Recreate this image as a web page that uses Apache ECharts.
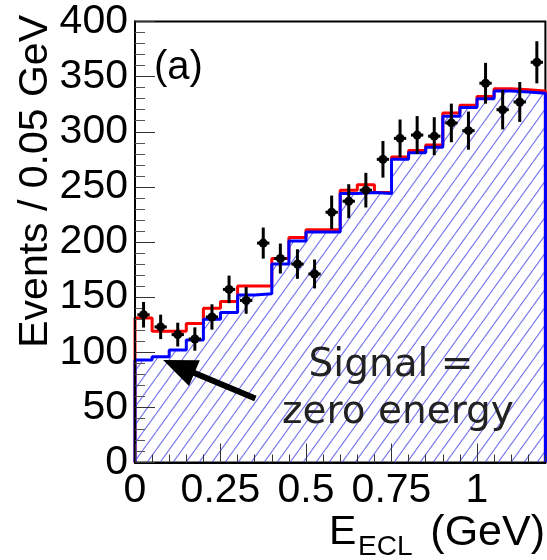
<!DOCTYPE html>
<html>
<head>
<meta charset="utf-8">
<script src="https://cdn.jsdelivr.net/npm/echarts@6/dist/echarts.min.js"></script>
<style>
  html, body { margin: 0; padding: 0; background: #fff; }
  #chart { width: 547px; height: 560px; }
</style>
</head>
<body>
<div id="chart"></div>
<script>
// E_ECL spectrum, 0.05 GeV bins
const binEdges = [0, 0.05, 0.1, 0.15, 0.2, 0.25, 0.3, 0.35, 0.4, 0.45, 0.5, 0.55,
                  0.6, 0.65, 0.7, 0.75, 0.8, 0.85, 0.9, 0.95, 1.0, 1.05, 1.1, 1.15, 1.2];

// Observed events per bin and their statistical errors
const dataCounts = [134, 123, 116, 112, 132, 157, 147, 199, 185, 180, 171, 227,
                    237, 247, 275, 294, 297, 296, 308, 301, 344, 320, 327, 363];
const dataErrors = [11.6, 11.1, 10.8, 10.6, 11.5, 12.5, 12.1, 14.1, 13.6, 13.4, 13.1, 15.1,
                    15.4, 15.7, 16.6, 17.1, 17.2, 17.2, 17.5, 17.3, 18.5, 17.9, 18.1, 19.1];

// Fit result: total (signal + background) and background only
const fitTotal = [131, 119, 119, 126, 140, 146, 160, 160, 185, 204, 211, 211,
                  247, 252, 245, 277, 283, 288, 317, 324, 332, 339, 338, 337];
const fitBackground = [93, 96, 102, 111, 130, 136, 152, 153, 180, 201, 209, 209,
                       244, 245, 244, 275, 281, 286, 314, 322, 330, 337, 336, 335];

const xMajorStep = 0.25, xMinorStep = 0.05;
const yMax = 400, yStep = 50;

// Histogram outline: one point per bin edge, closed down to zero at both ends
function stepPoints(values) {
  const n = values.length;
  const pts = [[binEdges[0], 0]];
  values.forEach((v, i) => pts.push([binEdges[i], v]));
  pts.push([binEdges[n], values[n - 1]]);
  pts.push([binEdges[n], 0]);
  return pts;
}

const points = dataCounts.map((c, i) => [(binEdges[i] + binEdges[i + 1]) / 2, c, dataErrors[i]]);

// "/" hatching for the background fill
function hatchPattern() {
  const w = 13, h = 18;
  const cv = document.createElement('canvas');
  cv.width = w; cv.height = h;
  const ctx = cv.getContext('2d');
  ctx.strokeStyle = 'rgba(90,90,235,0.85)';
  ctx.lineWidth = 1.1;
  for (let k = -1; k <= 1; k++) {
    ctx.beginPath();
    ctx.moveTo(k * w, h);
    ctx.lineTo(k * w + w, 0);
    ctx.stroke();
  }
  return cv;
}

const FONT = 'Liberation Sans, Arial, sans-serif';
const chart = echarts.init(document.getElementById('chart'), null, { renderer: 'canvas' });

chart.setOption({
  animation: false,
  backgroundColor: '#fff',
  grid: { left: 135, top: 21.5, width: 410.4, height: 441, show: true,
          borderColor: '#000', borderWidth: 2, backgroundColor: 'transparent' },
  xAxis: [{
    type: 'value', min: 0, max: 1.2, interval: xMajorStep, z: 5,
    axisLine: { show: true, lineStyle: { color: '#000', width: 2 } },
    axisTick: { show: true, inside: true, length: 19, lineStyle: { color: '#333', width: 1 } },
    splitLine: { show: false },
    axisLabel: { show: true, showMaxLabel: false, margin: 28.5, verticalAlign: 'middle',
                 fontFamily: FONT, fontSize: 41, color: '#000' }
  }, {
    type: 'value', min: 0, max: 1.2, interval: xMinorStep, position: 'bottom', z: 5,
    axisLine: { show: false },
    axisTick: { show: true, inside: true, length: 8, lineStyle: { color: '#333', width: 1 } },
    splitLine: { show: false },
    axisLabel: { show: false }
  }],
  yAxis: {
    type: 'value', min: 0, max: yMax, interval: yStep, z: 5,
    axisLine: { show: true, lineStyle: { color: '#000', width: 2 } },
    axisTick: { show: true, inside: true, length: 20, lineStyle: { color: '#333', width: 1 } },
    minorTick: { show: true, splitNumber: 5, length: 10, lineStyle: { color: '#555', width: 1 } },
    splitLine: { show: false },
    axisLabel: { margin: 7, fontFamily: FONT, fontSize: 41, color: '#000' }
  },
  series: [{
    name: 'total',
    type: 'line', step: 'end', data: stepPoints(fitTotal), symbol: 'none', z: 2,
    lineStyle: { color: '#ff0000', width: 3 }
  }, {
    name: 'background',
    type: 'line', step: 'end', data: stepPoints(fitBackground), symbol: 'none', z: 3,
    lineStyle: { color: '#0000ff', width: 3 },
    areaStyle: { color: { image: hatchPattern(), repeat: 'repeat' }, opacity: 1, origin: 'start' }
  }, {
    name: 'data',
    type: 'custom', z: 10, data: points,
    renderItem: function (params, api) {
      const x = api.value(0), y = api.value(1), e = api.value(2);
      const c = api.coord([x, y]);
      const top = api.coord([x, y + e]);
      const bot = api.coord([x, y - e]);
      const l = api.coord([x - 0.018, y]);
      const r = api.coord([x + 0.018, y]);
      const st = { stroke: '#000', lineWidth: 3 };
      return {
        type: 'group',
        children: [
          { type: 'line', shape: { x1: c[0], y1: top[1], x2: c[0], y2: bot[1] }, style: st },
          { type: 'line', shape: { x1: l[0], y1: c[1], x2: r[0], y2: c[1] }, style: st },
          { type: 'circle', shape: { cx: c[0], cy: c[1], r: 4.5 }, style: { fill: '#000' } }
        ]
      };
    }
  }],
  graphic: [
    { id: 'ytitle', type: 'text', x: 36, y: 15, rotation: Math.PI / 2, z: 20,
      style: { text: 'Events / 0.05 GeV', fontFamily: FONT, fontSize: 41, fill: '#000',
               align: 'right', verticalAlign: 'middle' } },
    { id: 'xtitle-e', type: 'text', x: 329, y: 533, z: 20,
      style: { text: 'E', fontFamily: FONT, fontSize: 41, fill: '#000', align: 'left', verticalAlign: 'middle' } },
    { id: 'xtitle-sub', type: 'text', x: 358, y: 547, z: 20,
      style: { text: 'ECL', fontFamily: FONT, fontSize: 28, fill: '#000', align: 'left', verticalAlign: 'middle' } },
    { id: 'xtitle-unit', type: 'text', x: 545, y: 533, z: 20,
      style: { text: '(GeV)', fontFamily: FONT, fontSize: 43, fill: '#000', align: 'right', verticalAlign: 'middle' } },
    { id: 'panel', type: 'text', x: 154, y: 68, z: 20,
      style: { text: '(a)', fontFamily: FONT, fontSize: 40, fill: '#000', align: 'left', verticalAlign: 'middle' } },
    { id: 'note1', type: 'text', x: 391, y: 365.5, z: 20,
      style: { text: 'Signal =', fontFamily: 'DejaVu Sans, sans-serif', fontSize: 39, fill: '#222',
               align: 'center', verticalAlign: 'middle' } },
    { id: 'note2', type: 'text', x: 398, y: 413, z: 20,
      style: { text: 'zero energy', fontFamily: 'DejaVu Sans, sans-serif', fontSize: 39, fill: '#222',
               align: 'center', verticalAlign: 'middle' } }
  ]
});

// Arrow pointing at the signal region near zero energy
(function drawArrow() {
  const tip = chart.convertToPixel({ xAxisIndex: 0, yAxisIndex: 0 }, [0.082, 93]);
  const tail = chart.convertToPixel({ xAxisIndex: 0, yAxisIndex: 0 }, [0.352, 58]);
  const dx = tip[0] - tail[0], dy = tip[1] - tail[1];
  const len = Math.sqrt(dx * dx + dy * dy);
  const ux = dx / len, uy = dy / len, nx = -uy, ny = ux;
  const headLen = 34, headHalf = 14, shaftHalf = 3;
  const bx = tip[0] - ux * headLen, by = tip[1] - uy * headLen;
  const poly = [
    [tail[0] + nx * shaftHalf, tail[1] + ny * shaftHalf],
    [bx + nx * shaftHalf, by + ny * shaftHalf],
    [bx + nx * headHalf, by + ny * headHalf],
    [tip[0], tip[1]],
    [bx - nx * headHalf, by - ny * headHalf],
    [bx - nx * shaftHalf, by - ny * shaftHalf],
    [tail[0] - nx * shaftHalf, tail[1] - ny * shaftHalf]
  ];
  chart.setOption({
    graphic: { elements: [{ id: 'arrow', type: 'polygon', z: 20,
                            shape: { points: poly }, style: { fill: '#000' } }] }
  });
})();
</script>
</body>
</html>
